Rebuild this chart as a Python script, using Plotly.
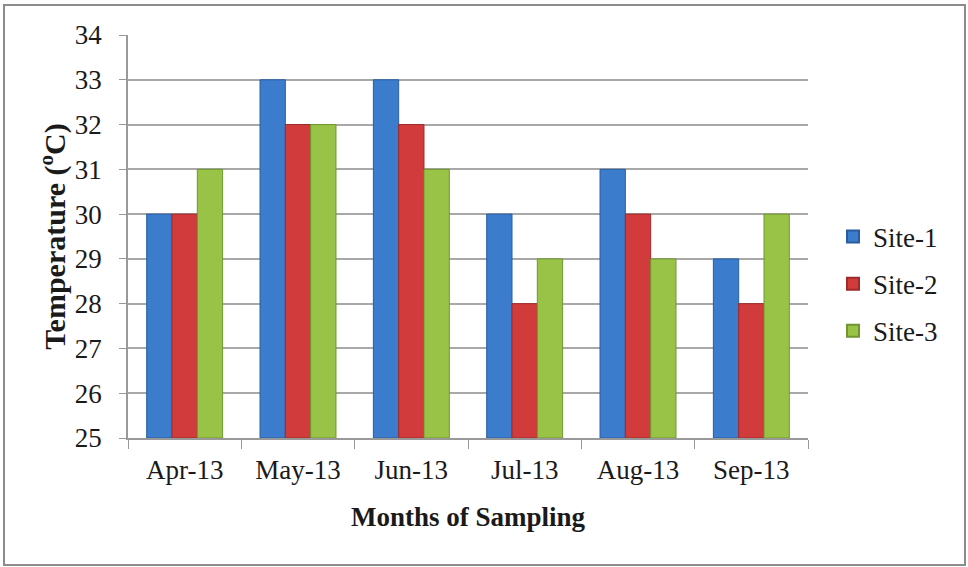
import plotly.graph_objects as go

months = ["Apr-13", "May-13", "Jun-13", "Jul-13", "Aug-13", "Sep-13"]
site1 = [30, 33, 33, 30, 31, 29]
site2 = [30, 32, 32, 28, 30, 28]
site3 = [31, 32, 31, 29, 29, 30]
series_names = ["Site-1", "Site-2", "Site-3"]
y_ticks = [25, 26, 27, 28, 29, 30, 31, 32, 33, 34]

colors = ["#3b7ccd", "#d13b3b", "#99c346"]
edges = ["#2a5d9e", "#9e2a2a", "#6f9630"]

fig = go.Figure()
for name, vals, c, e in zip(series_names, [site1, site2, site3], colors, edges):
    fig.add_trace(go.Bar(
        x=months, y=[v - 25 for v in vals], base=25, name=name, legendgroup=name,
        marker=dict(color=c, line=dict(color=e, width=1)),
    ))

W, H = 968, 567
L, R, T, B = 128, 160, 35, 129
pw, ph = W - L - R, H - T - B

def px(x):
    return (x - L) / pw

def py(y):
    return (H - B - y) / ph

font_family = "Liberation Serif, Times New Roman, serif"
txt = "#1a1a1a"

fig.update_layout(
    width=W, height=H,
    margin=dict(l=L, r=R, t=T, b=B),
    paper_bgcolor="white", plot_bgcolor="white",
    barmode="group", bargap=0.33, bargroupgap=0.0,
    font=dict(family=font_family, size=27, color=txt),
    showlegend=True,
    legend=dict(x=px(833), y=py(284), xanchor="left", yanchor="middle",
                font=dict(size=27, color=txt), itemsizing="constant",
                traceorder="grouped", tracegroupgap=9, bgcolor="rgba(0,0,0,0)"),
    xaxis=dict(
        type="category", tickson="boundaries", ticks="outside", ticklen=9,
        tickcolor="#999999", showline=True, linecolor="#999999", linewidth=1.5,
        tickfont=dict(size=27, color=txt), ticklabelstandoff=7,
        title=dict(text="<b>Months of Sampling</b>", font=dict(size=27, color=txt), standoff=23),
    ),
    yaxis=dict(
        range=[25, 34], tickvals=y_ticks, ticks="outside", ticklen=7,
        tickcolor="#999999", showline=True, linecolor="#999999", linewidth=1.5,
        showgrid=True, gridcolor="#a8a8a8", gridwidth=1.5,
        tickfont=dict(size=27, color=txt), ticklabelstandoff=12,
        title=dict(text="<b>Temperature (<sup>o</sup>C)</b>", font=dict(size=30, color=txt), standoff=0),
        zeroline=False,
    ),
    shapes=[dict(type="rect", xref="paper", yref="paper",
                 x0=px(4), x1=px(965), y0=py(5), y1=py(565),
                 line=dict(color="#8c8c8c", width=2), fillcolor="rgba(0,0,0,0)", layer="below")],
)

fig.write_html("out.html", config={"displayModeBar": False},
               post_script="document.body.style.margin='0px';")
